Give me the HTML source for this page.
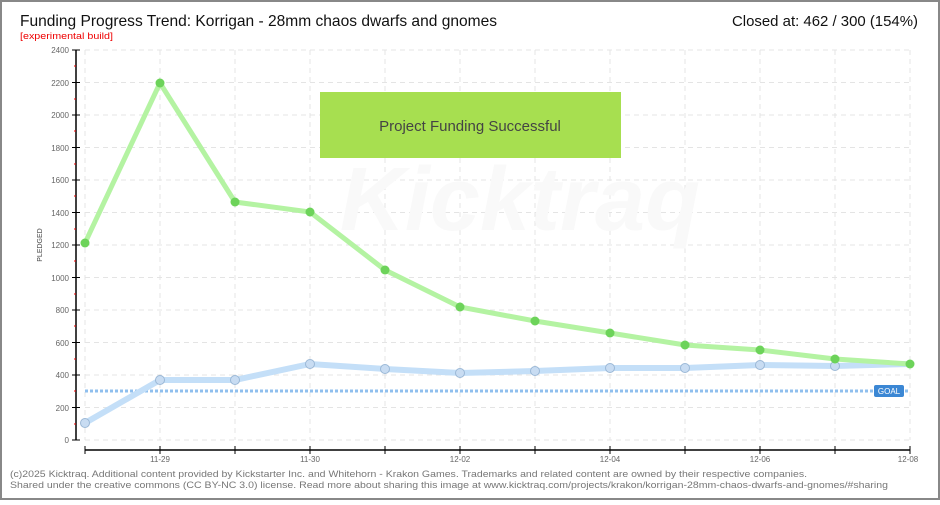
<!DOCTYPE html>
<html><head><meta charset="utf-8"><style>
body{margin:0;background:#fff}
svg text{font-family:"Liberation Sans",sans-serif}
</style></head><body>
<svg width="940" height="500" xmlns="http://www.w3.org/2000/svg">
<rect x="1" y="1" width="938" height="498" fill="#fff" stroke="#888" stroke-width="2"/>
<text x="20" y="26" font-size="16" fill="#111" textLength="477" lengthAdjust="spacingAndGlyphs">Funding Progress Trend: Korrigan - 28mm chaos dwarfs and gnomes</text>
<text x="20" y="39" font-size="9" fill="#e00" textLength="93" lengthAdjust="spacingAndGlyphs">[experimental build]</text>
<text x="918" y="26" font-size="15" fill="#111" text-anchor="end" textLength="186" lengthAdjust="spacingAndGlyphs">Closed at: 462 / 300 (154%)</text>
<g stroke="#e4e4e4" stroke-dasharray="5,4" stroke-width="1">
<line x1="85" y1="50" x2="910" y2="50"/><line x1="85" y1="82.5" x2="910" y2="82.5"/><line x1="85" y1="115" x2="910" y2="115"/><line x1="85" y1="147.5" x2="910" y2="147.5"/><line x1="85" y1="180" x2="910" y2="180"/><line x1="85" y1="212.5" x2="910" y2="212.5"/><line x1="85" y1="245" x2="910" y2="245"/><line x1="85" y1="277.5" x2="910" y2="277.5"/><line x1="85" y1="310" x2="910" y2="310"/><line x1="85" y1="342.5" x2="910" y2="342.5"/><line x1="85" y1="375" x2="910" y2="375"/><line x1="85" y1="407.5" x2="910" y2="407.5"/><line x1="85" y1="440" x2="910" y2="440"/>
<line x1="85" y1="50" x2="85" y2="440"/><line x1="160" y1="50" x2="160" y2="440"/><line x1="235" y1="50" x2="235" y2="440"/><line x1="310" y1="50" x2="310" y2="440"/><line x1="385" y1="50" x2="385" y2="440"/><line x1="460" y1="50" x2="460" y2="440"/><line x1="535" y1="50" x2="535" y2="440"/><line x1="610" y1="50" x2="610" y2="440"/><line x1="685" y1="50" x2="685" y2="440"/><line x1="760" y1="50" x2="760" y2="440"/><line x1="835" y1="50" x2="835" y2="440"/><line x1="910" y1="50" x2="910" y2="440"/>
</g>
<text x="520" y="230" font-size="90" fill="#f9f9f9" text-anchor="middle" font-style="italic" font-weight="bold">Kicktraq</text>
<line x1="76" y1="50" x2="76" y2="440" stroke="#000" stroke-width="1.5"/>
<g stroke="#000"><line x1="72" y1="50" x2="80" y2="50"/><line x1="72" y1="82.5" x2="80" y2="82.5"/><line x1="72" y1="115" x2="80" y2="115"/><line x1="72" y1="147.5" x2="80" y2="147.5"/><line x1="72" y1="180" x2="80" y2="180"/><line x1="72" y1="212.5" x2="80" y2="212.5"/><line x1="72" y1="245" x2="80" y2="245"/><line x1="72" y1="277.5" x2="80" y2="277.5"/><line x1="72" y1="310" x2="80" y2="310"/><line x1="72" y1="342.5" x2="80" y2="342.5"/><line x1="72" y1="375" x2="80" y2="375"/><line x1="72" y1="407.5" x2="80" y2="407.5"/><line x1="72" y1="440" x2="80" y2="440"/></g>
<g stroke="#e00"><line x1="74" y1="66" x2="76" y2="66"/><line x1="74" y1="99" x2="76" y2="99"/><line x1="74" y1="131" x2="76" y2="131"/><line x1="74" y1="164" x2="76" y2="164"/><line x1="74" y1="196" x2="76" y2="196"/><line x1="74" y1="229" x2="76" y2="229"/><line x1="74" y1="261" x2="76" y2="261"/><line x1="74" y1="294" x2="76" y2="294"/><line x1="74" y1="326" x2="76" y2="326"/><line x1="74" y1="359" x2="76" y2="359"/><line x1="74" y1="391" x2="76" y2="391"/><line x1="74" y1="424" x2="76" y2="424"/></g>
<g font-size="8" fill="#666" text-anchor="end">
<text x="69" y="53">2400</text><text x="69" y="86">2200</text><text x="69" y="118">2000</text><text x="69" y="151">1800</text><text x="69" y="183">1600</text><text x="69" y="216">1400</text><text x="69" y="248">1200</text><text x="69" y="281">1000</text><text x="69" y="313">800</text><text x="69" y="346">600</text><text x="69" y="378">400</text><text x="69" y="411">200</text><text x="69" y="443">0</text>
</g>
<text x="42" y="245" font-size="7" fill="#444" text-anchor="middle" transform="rotate(-90 42 245)">PLEDGED</text>
<line x1="85" y1="450" x2="910" y2="450" stroke="#000" stroke-width="1.5"/>
<g stroke="#000"><line x1="85" y1="446" x2="85" y2="454"/><line x1="160" y1="446" x2="160" y2="454"/><line x1="235" y1="446" x2="235" y2="454"/><line x1="310" y1="446" x2="310" y2="454"/><line x1="385" y1="446" x2="385" y2="454"/><line x1="460" y1="446" x2="460" y2="454"/><line x1="535" y1="446" x2="535" y2="454"/><line x1="610" y1="446" x2="610" y2="454"/><line x1="685" y1="446" x2="685" y2="454"/><line x1="760" y1="446" x2="760" y2="454"/><line x1="835" y1="446" x2="835" y2="454"/><line x1="910" y1="446" x2="910" y2="454"/></g>
<g font-size="8" fill="#666" text-anchor="middle"><text x="160" y="462">11-29</text><text x="310" y="462">11-30</text><text x="460" y="462">12-02</text><text x="610" y="462">12-04</text><text x="760" y="462">12-06</text><text x="908" y="462">12-08</text></g>
<line x1="85" y1="391" x2="910" y2="391" stroke="#8fbfee" stroke-width="3" stroke-dasharray="3,2"/>
<rect x="874" y="385" width="30" height="12" rx="2" fill="#3b87d4"/>
<text x="889" y="394" font-size="8" fill="#fff" text-anchor="middle">GOAL</text>
<rect x="320" y="92" width="301" height="66" fill="#a7df50"/>
<text x="470" y="131" font-size="15" fill="#444" text-anchor="middle">Project Funding Successful</text>
<polyline fill="none" stroke="#c4dff8" stroke-width="6" points="85,423 160,380 235,380 310,364 385,369 460,373 535,371 610,368 685,368 760,365 835,366 910,364"/>
<g fill="#c8dcf2" stroke="#9bb8d6" stroke-width="1"><circle cx="85" cy="423" r="4.5"/><circle cx="160" cy="380" r="4.5"/><circle cx="235" cy="380" r="4.5"/><circle cx="310" cy="364" r="4.5"/><circle cx="385" cy="369" r="4.5"/><circle cx="460" cy="373" r="4.5"/><circle cx="535" cy="371" r="4.5"/><circle cx="610" cy="368" r="4.5"/><circle cx="685" cy="368" r="4.5"/><circle cx="760" cy="365" r="4.5"/><circle cx="835" cy="366" r="4.5"/></g>
<polyline fill="none" stroke="#b4f3a2" stroke-width="5" points="85,243 160,83 235,202 310,212 385,270 460,307 535,321 610,333 685,345 760,350 835,359 910,364"/>
<g fill="#6dd35a"><circle cx="85" cy="243" r="4.5"/><circle cx="160" cy="83" r="4.5"/><circle cx="235" cy="202" r="4.5"/><circle cx="310" cy="212" r="4.5"/><circle cx="385" cy="270" r="4.5"/><circle cx="460" cy="307" r="4.5"/><circle cx="535" cy="321" r="4.5"/><circle cx="610" cy="333" r="4.5"/><circle cx="685" cy="345" r="4.5"/><circle cx="760" cy="350" r="4.5"/><circle cx="835" cy="359" r="4.5"/><circle cx="910" cy="364" r="4.5"/></g>
<g font-size="9.5" fill="#777"><text x="10" y="477" textLength="797" lengthAdjust="spacingAndGlyphs">(c)2025 Kicktraq. Additional content provided by Kickstarter Inc. and Whitehorn - Krakon Games. Trademarks and related content are owned by their respective companies.</text>
<text x="10" y="488" textLength="878" lengthAdjust="spacingAndGlyphs">Shared under the creative commons (CC BY-NC 3.0) license. Read more about sharing this image at www.kicktraq.com/projects/krakon/korrigan-28mm-chaos-dwarfs-and-gnomes/#sharing</text></g>
</svg>
</body></html>
